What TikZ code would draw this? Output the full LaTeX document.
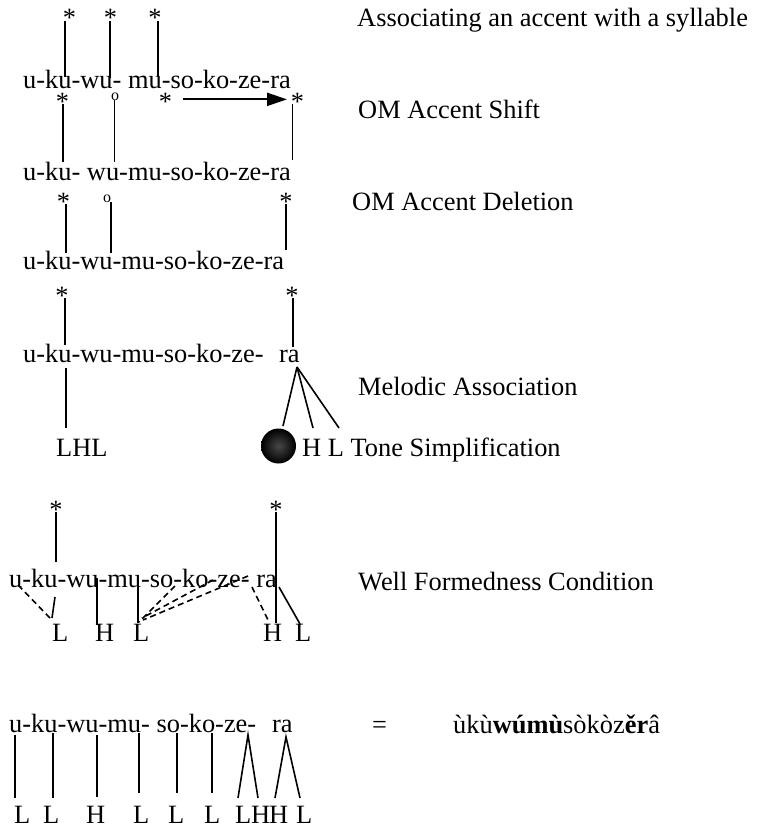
\documentclass[tikz,border=0pt]{standalone}
\usepackage{fontspec}
\setmainfont{Liberation Serif}
\usetikzlibrary{arrows.meta}
\tikzset{
  txt/.style={font=\fontsize{26.4}{31}\selectfont, inner sep=0pt, anchor=base west},
  ast/.style={font=\fontsize{26.4}{31}\selectfont, inner sep=0pt, anchor=base},
  ring/.style={font=\fontsize{16}{18}\selectfont, inner sep=0pt, anchor=base},
  assoc/.style={line width=1.6pt},
  dassoc/.style={line width=1.6pt, dash pattern=on 6pt off 4pt},
  fromast/.style={assoc, shorten <=3pt},
}
\begin{document}
\begin{tikzpicture}[x=1pt,y=-1pt]
\useasboundingbox (0,0) rectangle (758,827);

% ---------- row 1
\node[ast] (s11) at (69.5,27) {*};
\node[ast] (s12) at (110.5,27) {*};
\node[ast] (s13) at (155,27) {*};
\node[txt] (w1) at (23,88) {u-ku-wu- mu-so-ko-ze-ra};
\node[txt] (l1) at (357,26) {Associating an accent with a syllable};
\coordinate (e11) at (65,77);
\coordinate (e12) at (110,78);
\coordinate (e13) at (158,77);
\draw[fromast] (s11.center -| e11) -- (e11);
\draw[fromast] (s12.center -| e12) -- (e12);
\draw[fromast] (s13.center -| e13) -- (e13);

% ---------- row 2
\node[ast] (s21) at (62.5,110) {*};
\node[ring] (o21) at (115,100) {o};
\node[ast] (s23) at (165.5,110) {*};
\node[ast] (s24) at (297.5,110) {*};
\draw[line width=2pt, -{Triangle[length=20pt,width=13pt]}, shorten <=17.5pt, shorten >=10.5pt]
  ([yshift=2pt]s23.center) -- ([yshift=2pt]s24.center);
\node[txt] (w2) at (23,180) {u-ku- wu-mu-so-ko-ze-ra};
\node[txt] (l2) at (358,118) {OM Accent Shift};
\coordinate (e21) at (63,162);
\coordinate (e22) at (114.5,162);
\coordinate (e24) at (292.5,160);
\draw[fromast] (s21.center -| e21) -- (e21);
\draw[assoc] (o21.south -| e22) -- (e22);
\draw[fromast] (s24.center -| e24) -- (e24);

% ---------- row 3
\node[ast] (s31) at (63.5,210) {*};
\node[ring] (o32) at (107,202) {o};
\node[ast] (s33) at (286,210) {*};
\node[txt] (w3) at (23,269) {u-ku-wu-mu-so-ko-ze-ra};
\node[txt] (l3) at (352,210) {OM Accent Deletion};
\coordinate (e31) at (66,253);
\coordinate (e32) at (111,253);
\coordinate (e33) at (286,250);
\draw[fromast] (s31.center -| e31) -- (e31);
\draw[assoc] (o32.south -| e32) -- (e32);
\draw[fromast] (s33.center -| e33) -- (e33);

% ---------- row 4
\node[ast] (s41) at (62,304) {*};
\node[ast] (s42) at (292,304) {*};
\node[txt] (w4) at (23,362) {u-ku-wu-mu-so-ko-ze-};
\node[txt] (ra4) at (279,362) {ra};
\coordinate (e41) at (65,345);
\coordinate (e42) at (293,347);
\draw[fromast] (s41.center -| e41) -- (e41);
\draw[fromast] (s42.center -| e42) -- (e42);
\node[txt] (l4) at (358,395) {Melodic Association};

\node[txt] (lhl) at (56,456) {LHL};
\node[circle, minimum size=35pt, inner sep=0pt, inner color=black!72, outer color=black] (ball) at (278.5,446) {};
\node[txt] (hl) at (302,456) {H L Tone Simplification};
\coordinate (k4) at (66,368);
\coordinate (k4b) at (66,428);
\draw[assoc] (k4) -- (k4b);
\coordinate (fan) at (297,367);
\coordinate (f1) at (283,426);
\coordinate (f2) at (313,428);
\coordinate (f3) at (339,428);
\draw[assoc] (fan) -- (f1);
\draw[assoc] (fan) -- (f2);
\draw[assoc] (fan) -- (f3);

% ---------- row 5
\node[ast] (s51) at (56,518) {*};
\node[ast] (s52) at (276,518) {*};
\node[txt] (w5) at (9,587) {u-ku-wu-mu-so-ko-ze- ra};
\node[txt] (l5) at (358,590) {Well Formedness Condition};
\coordinate (e51) at (56,562);
\coordinate (e52) at (276,623);
\draw[fromast] (s51.center -| e51) -- (e51);
\draw[fromast] (s52.center -| e52) -- (e52);

\node[txt] (t61) at (52,641) {L};
\node[txt] (t62) at (95,641) {H};
\node[txt] (t63) at (133,641) {L};
\node[txt] (t64) at (263,641) {H};
\node[txt] (t65) at (295,641) {L};

\coordinate (u1) at (18,585);   \coordinate (v1) at (50,618);
\coordinate (u2) at (55,597);   \coordinate (v2) at (52,618);
\coordinate (u3) at (97,578);   \coordinate (v3) at (97,625);
\coordinate (u4) at (138,580);  \coordinate (v4) at (138,623);
\coordinate (u5) at (175,586);  \coordinate (v5) at (139,622);
\coordinate (u6) at (213,580);  \coordinate (v6) at (142,618);
\coordinate (u7) at (248,576);  \coordinate (v7) at (143,620);
\coordinate (u8) at (252,587);  \coordinate (v8) at (268,620);
\coordinate (u9) at (279,587);  \coordinate (v9) at (300,624);
\draw[dassoc] (u1) -- (v1);
\draw[assoc]  (u2) -- (v2);
\draw[assoc]  (u3) -- (v3);
\draw[assoc]  (u4) -- (v4);
\draw[dassoc] (u5) -- (v5);
\draw[dassoc] (u6) -- (v6);
\draw[dassoc] (u7) -- (v7);
\draw[dassoc] (u8) -- (v8);
\draw[assoc]  (u9) -- (v9);

% ---------- row 7
\node[txt] (w7) at (9,732) {u-ku-wu-mu- so-ko-ze-};
\node[txt] (ra7) at (272,732) {ra};
\node[txt] (eq) at (372,733) {=};
\node[txt] (res) at (453,733) {ùkù\textbf{wúmù}sòkòz\textbf{ěr}â};

\node[txt] (b1) at (14,823) {L};
\node[txt] (b2) at (43,823) {L};
\node[txt] (b3) at (86,823) {H};
\node[txt] (b4) at (133,823) {L};
\node[txt] (b5) at (168,823) {L};
\node[txt] (b6) at (204,823) {L};
\node[txt] (b7) at (235,823) {L};
\node[txt] (b8) at (251,823) {H};
\node[txt] (b9) at (269,823) {H};
\node[txt] (b10) at (296,823) {L};

\coordinate (p1) at (15,735);  \coordinate (q1) at (15,798);
\coordinate (p2) at (53,733);  \coordinate (q2) at (53,798);
\coordinate (p3) at (97,735);  \coordinate (q3) at (97,797);
\coordinate (p4) at (139,733); \coordinate (q4) at (139,793);
\coordinate (p5) at (177,733); \coordinate (q5) at (177,793);
\coordinate (p6) at (212,733); \coordinate (q6) at (212,793);
\coordinate (p7) at (248,735); \coordinate (q7a) at (238,798); \coordinate (q7b) at (258,798);
\coordinate (p8) at (286,737); \coordinate (q8a) at (275,798); \coordinate (q8b) at (300,798);
\draw[assoc] (p1) -- (q1);
\draw[assoc] (p2) -- (q2);
\draw[assoc] (p3) -- (q3);
\draw[assoc] (p4) -- (q4);
\draw[assoc] (p5) -- (q5);
\draw[assoc] (p6) -- (q6);
\draw[assoc] (q7a) -- (p7) -- (q7b);
\draw[assoc] (q8a) -- (p8) -- (q8b);
\end{tikzpicture}
\end{document}
